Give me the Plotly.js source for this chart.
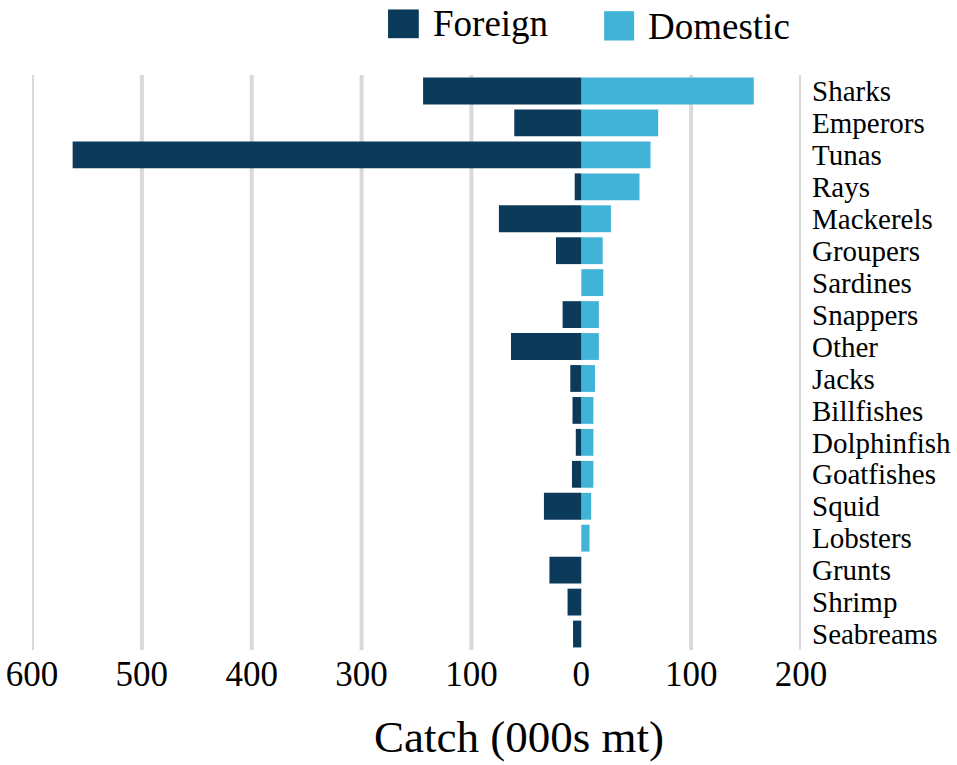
<!DOCTYPE html>
<html>
<head>
<meta charset="utf-8">
<script src="https://cdn.plot.ly/plotly-3.0.1.min.js"></script>
<style>
  html, body { margin: 0; padding: 0; background: #fff; }
  #chart { width: 957px; height: 765px; }
</style>
</head>
<body>
<div id="chart"></div>
<script>
(function () {
  'use strict';

  // Catch by species group, thousand tonnes. Foreign is drawn to the left.
  var species = ['Sharks', 'Emperors', 'Tunas', 'Rays', 'Mackerels', 'Groupers',
    'Sardines', 'Snappers', 'Other', 'Jacks', 'Billfishes', 'Dolphinfish',
    'Goatfishes', 'Squid', 'Lobsters', 'Grunts', 'Shrimp', 'Seabreams'];
  var foreignCatch = [144, 61, 463, 6, 75, 23, 0, 17, 64, 10, 8, 5, 8.5, 34, 0, 29, 12.5, 7.5];
  var domesticCatch = [157, 70, 63, 53, 27, 19.5, 20, 16, 16, 12.5, 11, 11, 11, 9, 7.5, 0, 0, 0];
  var seriesNames = ['Foreign', 'Domestic'];
  var xTitle = 'Catch (000s mt)';

  // The source axis labels the left side oddly (no "200"); kept as drawn.
  var tickVals = [-500, -400, -300, -200, -100, 0, 100, 200];
  var tickText = ['600', '500', '400', '300', '100', '0', '100', '200'];

  var COLORS = {
    foreign: '#0b3a5a',
    domestic: '#41b3d6',
    grid: '#d9d9d9',
    text: '#000000'
  };
  var SERIF = '"Liberation Serif", "Times New Roman", Times, serif';

  var negForeign = foreignCatch.map(function (v) { return -v; });

  var domesticTrace = {
    type: 'bar',
    orientation: 'h',
    name: seriesNames[1],
    y: species,
    x: domesticCatch,
    marker: { color: COLORS.domestic },
    hovertemplate: '%{y}: %{x}<extra>Domestic</extra>'
  };

  var foreignTrace = {
    type: 'bar',
    orientation: 'h',
    name: seriesNames[0],
    y: species,
    x: negForeign,
    customdata: foreignCatch,
    marker: { color: COLORS.foreign },
    hovertemplate: '%{y}: %{customdata}<extra>Foreign</extra>'
  };

  // grid lines except at zero (the source has none there)
  var shapes = tickVals.filter(function (v) { return v !== 0; }).map(function (v) {
    return {
      type: 'line', layer: 'below',
      xref: 'x', yref: 'paper',
      x0: v, x1: v, y0: 0, y1: 1,
      line: { color: COLORS.grid, width: 4 }
    };
  });

  // hand-made legend: big squares like the original
  var legendItems = [
    { name: seriesNames[0], color: COLORS.foreign, x0: 0.463, x1: 0.503, y0: 1.064, y1: 1.114, tx: 0.519, ty: 1.090 },
    { name: seriesNames[1], color: COLORS.domestic, x0: 0.744, x1: 0.783, y0: 1.060, y1: 1.111, tx: 0.798, ty: 1.085 }
  ];
  var annotations = [];
  legendItems.forEach(function (it) {
    shapes.push({
      type: 'rect', xref: 'paper', yref: 'paper',
      x0: it.x0, x1: it.x1, y0: it.y0, y1: it.y1,
      fillcolor: it.color, line: { width: 0 }
    });
    annotations.push({
      xref: 'paper', yref: 'paper',
      x: it.tx, y: it.ty, xanchor: 'left', yanchor: 'middle',
      text: it.name, showarrow: false,
      font: { family: SERIF, size: 37, color: COLORS.text }
    });
  });

  // axis title sits off-centre in the source, so it is an annotation
  annotations.push({
    xref: 'paper', yref: 'paper',
    x: 0.633, y: -0.152, xanchor: 'center', yanchor: 'middle',
    text: xTitle, showarrow: false,
    font: { family: SERIF, size: 45, color: COLORS.text }
  });

  var layout = {
    width: 957,
    height: 765,
    paper_bgcolor: '#ffffff',
    plot_bgcolor: '#ffffff',
    font: { family: SERIF, color: COLORS.text },
    margin: { t: 75, r: 156, b: 115, l: 32 },
    barmode: 'relative',
    bargap: 0.16,
    showlegend: false,
    xaxis: {
      range: [-500, 200],
      tickvals: tickVals,
      ticktext: tickText,
      showgrid: false,
      zeroline: false,
      showline: false,
      ticks: '',
      tickfont: { family: SERIF, size: 35, color: COLORS.text }
    },
    yaxis: {
      side: 'right',
      autorange: 'reversed',
      tickmode: 'array',
      tickvals: species,
      ticktext: species,
      showgrid: false,
      zeroline: false,
      showline: false,
      ticks: '',
      ticklabelstandoff: 10,
      tickfont: { family: SERIF, size: 29, color: COLORS.text }
    },
    shapes: shapes,
    annotations: annotations
  };

  Plotly.newPlot('chart', [domesticTrace, foreignTrace], layout, { displayModeBar: false });
})();
</script>
</body>
</html>
